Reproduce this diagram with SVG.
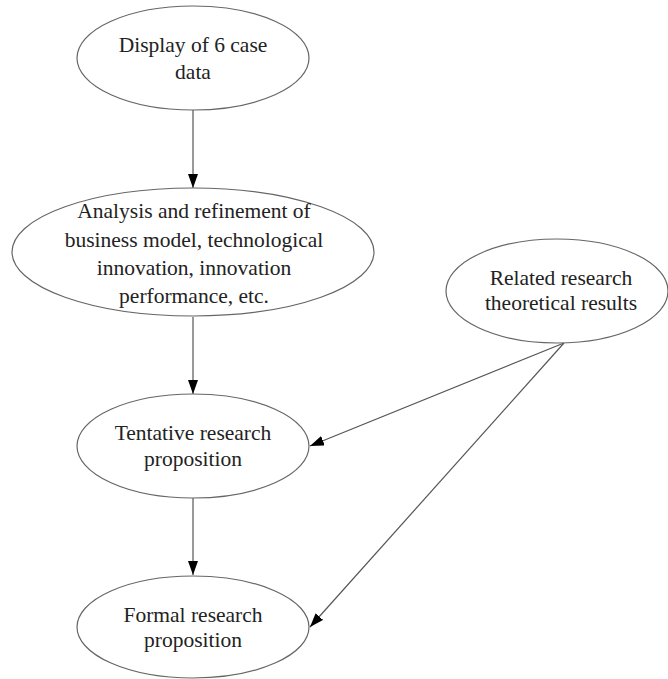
<svg xmlns="http://www.w3.org/2000/svg" width="668" height="679" viewBox="0 0 668 679">
<style>
.n{fill:#fff;stroke:#666;stroke-width:1.2}
.t{font-family:"Liberation Serif","Times New Roman",serif;font-size:21.5px;fill:#222;text-anchor:middle}
.c{stroke:#555;stroke-width:1.2;fill:none;marker-end:url(#ah)}
</style>
<defs>
<marker id="ah" viewBox="0 0 14 10" refX="14" refY="5" markerWidth="14" markerHeight="10" markerUnits="userSpaceOnUse" orient="auto">
<path d="M0,0 L14,5 L0,10 Z" fill="#000"/>
</marker>
</defs>
<rect width="668" height="679" fill="#fff"/>
<g id="connectors">
<line class="c" x1="193" y1="110" x2="193" y2="188"/>
<line class="c" x1="193" y1="317" x2="193" y2="394"/>
<line class="c" x1="193" y1="498" x2="193" y2="575"/>
<line class="c" x1="564" y1="343" x2="310" y2="446"/>
<line class="c" x1="564" y1="343" x2="310" y2="627"/>
</g>
<g id="display">
<ellipse class="n" cx="193" cy="58" rx="116" ry="52"/>
<text class="t" x="193" y="52">Display of 6 case</text>
<text class="t" x="193" y="79">data</text>
</g>
<g id="analysis">
<ellipse class="n" cx="193" cy="252" rx="181" ry="64"/>
<text class="t" x="194" y="218">Analysis and refinement of</text>
<text class="t" x="194" y="247">business model, technological</text>
<text class="t" x="194" y="275">innovation, innovation</text>
<text class="t" x="194" y="303">performance, etc.</text>
</g>
<g id="related">
<ellipse class="n" cx="557" cy="291" rx="111" ry="52"/>
<text class="t" x="561" y="285">Related research</text>
<text class="t" x="561" y="310">theoretical results</text>
</g>
<g id="tentative">
<ellipse class="n" cx="193" cy="446" rx="116" ry="52"/>
<text class="t" x="193" y="440">Tentative research</text>
<text class="t" x="193" y="466">proposition</text>
</g>
<g id="formal">
<ellipse class="n" cx="193" cy="627" rx="116" ry="51"/>
<text class="t" x="193" y="622">Formal research</text>
<text class="t" x="193" y="647">proposition</text>
</g>
</svg>
